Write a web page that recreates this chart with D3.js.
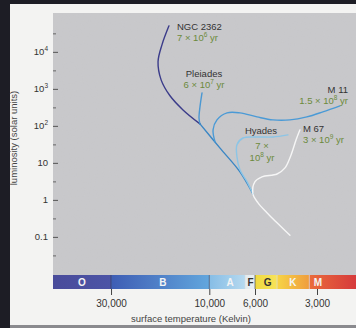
<!DOCTYPE html>
<html>
<head>
<meta charset="utf-8">
<script src="https://cdn.jsdelivr.net/npm/d3@7"></script>
<style>
  html, body { margin: 0; padding: 0; background: #1d1d25; }
  svg { display: block; }
  text { font-family: "Liberation Sans", Arial, sans-serif; }
</style>
</head>
<body>
<div id="chart"></div>
<script>
// Cluster isochrones, [temperature K, luminosity L_sun]
const ngc2362 = [[15700, 50400], [16980, 15460], [17740, 5370], [17140, 1750], [15520, 650], [13420, 270], [11100, 113]];
const pleiades = [[10850, 780], [11100, 327], [11220, 164], [11100, 113]];
const m11 = [[9380, 37], [9590, 78], [9180, 145], [8200, 224], [7100, 224], [5870, 175], [4910, 145], [4060, 145], [3360, 175], [2810, 239], [2320, 348]];
const hyades = [[4150, 57], [4910, 50], [5870, 50], [6860, 47], [7340, 31], [7340, 14.5], [7100, 6.5], [6560, 3.1], [6140, 1.45]];
const mainSeq = [[11100, 113], [8870, 25], [7100, 5.7], [6140, 1.45]];
const m67 = [[3630, 78], [3790, 42], [4010, 16.4], [4290, 7.3], [4690, 5.0], [5550, 4.2], [6000, 3.1], [6140, 1.45], [5800, 0.83], [5250, 0.45], [4690, 0.24], [4060, 0.11]];

// Axes
const lumTicks = [0.1, 1, 10, 100, 1000, 10000];
const lumMinor = [0.0316, 0.316, 3.16, 31.6, 316, 3162, 31623];
const tempTicks = [30000, 10000, 6000, 3000];

// Spectral classes
const classNames = ["O", "B", "A", "F", "G", "K", "M"];
const classBounds = [57400, 30000, 10000, 6700, 6000, 4690, 3270, 1940];
const classLabelTemps = [41500, 16800, 7930, 6300, 5210, 3930, 2970];
const classColors = [
    ["#494b9a", "#4c54a6"],
    ["#3e5db4", "#62a6dd"],
    ["#86bde6", "#b6d9ef"],
    ["#e3ebef", "#e9eff1"],
    ["#efd93e", "#f7e35a"],
    ["#f7d445", "#ef9d3e"],
    ["#ea6b3b", "#d63a3c"]
];

const W = 356, H = 328;
const plot = { left: 53, right: 356, top: 13, bottom: 275 };
const barBottom = 289;

const svg = d3.select('#chart').append('svg')
    .attr('width', W)
    .attr('height', H);

const defs = svg.append('defs');

// paper grain for the plot area
const grain = defs.append('filter').attr('id', 'grain').attr('x', 0).attr('y', 0).attr('width', 1).attr('height', 1);
grain.append('feTurbulence').attr('type', 'fractalNoise').attr('baseFrequency', 0.85).attr('numOctaves', 2).attr('seed', 3).attr('result', 'n');
grain.append('feColorMatrix').attr('in', 'n').attr('type', 'matrix')
    .attr('values', '0 0 0 0 0.5  0 0 0 0 0.5  0 0 0 0 0.5  0 0 0 0.16 0');

// page
svg.append('rect').attr('x', 10).attr('y', 4).attr('width', W - 10).attr('height', 321).attr('fill', '#f3f3f2');
svg.append('rect').attr('x', 10).attr('y', 325).attr('width', W - 10).attr('height', 3).attr('fill', '#8a8a8e');

// plot background
svg.append('rect')
    .attr('x', plot.left).attr('y', plot.top)
    .attr('width', plot.right - plot.left).attr('height', plot.bottom - plot.top)
    .attr('fill', '#c9c9cc');
svg.append('rect')
    .attr('x', plot.left).attr('y', plot.top)
    .attr('width', plot.right - plot.left).attr('height', plot.bottom - plot.top)
    .attr('filter', 'url(#grain)');

const x = d3.scaleLog().domain([57400, 1940]).range([plot.left, plot.right]);
const y = d3.scaleLog().domain([Math.pow(10, -2.03), Math.pow(10, 5.05)]).range([plot.bottom, plot.top]);

// y axis (ticks point inward)
const yAxis = svg.append('g')
    .attr('transform', `translate(${plot.left},0)`)
    .call(d3.axisLeft(y).tickValues(lumTicks).tickSize(-5).tickPadding(5).tickFormat(''));
yAxis.select('.domain').remove();
yAxis.selectAll('line').attr('stroke', '#555');
yAxis.selectAll('text')
    .attr('font-size', 9.5)
    .attr('fill', '#333')
    .each(function(d) {
        const t = d3.select(this);
        const e = Math.round(Math.log10(d));
        if (e >= 2) {
            t.append('tspan').text('10');
            t.append('tspan').attr('dy', -4).attr('font-size', 6.5).text(e);
        } else {
            t.text(d);
        }
    });

const yMinor = svg.append('g')
    .attr('transform', `translate(${plot.left},0)`)
    .call(d3.axisLeft(y).tickValues(lumMinor).tickSize(-3).tickFormat(''));
yMinor.select('.domain').remove();
yMinor.selectAll('line').attr('stroke', '#666');

svg.append('text')
    .attr('transform', 'translate(17,138) rotate(-90)')
    .attr('text-anchor', 'middle')
    .attr('font-size', 9.5)
    .attr('fill', '#444')
    .text('luminosity (solar units)');

// spectral class bar
classNames.forEach((c, i) => {
    const g = defs.append('linearGradient').attr('id', 'grad' + c);
    g.append('stop').attr('offset', '0%').attr('stop-color', classColors[i][0]);
    g.append('stop').attr('offset', '100%').attr('stop-color', classColors[i][1]);
});

const bar = svg.append('g');
bar.selectAll('rect')
    .data(classNames)
    .enter()
    .append('rect')
    .attr('x', (d, i) => x(classBounds[i]))
    .attr('y', plot.bottom)
    .attr('width', (d, i) => Math.min(plot.right, x(classBounds[i + 1])) - x(classBounds[i]))
    .attr('height', barBottom - plot.bottom)
    .attr('fill', d => `url(#grad${d})`);

bar.selectAll('line')
    .data(classBounds.slice(1, -1))
    .enter()
    .append('line')
    .attr('x1', d => x(d)).attr('x2', d => x(d))
    .attr('y1', plot.bottom).attr('y2', barBottom)
    .attr('stroke', d => (d === 30000 || d === 10000 || d === 6000) ? '#333a55' : '#d8dde2')
    .attr('stroke-width', 0.8)
    .attr('opacity', 0.8);

bar.selectAll('text')
    .data(classNames)
    .enter()
    .append('text')
    .attr('x', (d, i) => x(classLabelTemps[i]))
    .attr('y', 286)
    .attr('text-anchor', 'middle')
    .attr('font-size', 10)
    .attr('font-weight', 'bold')
    .attr('fill', d => (d === 'F' || d === 'G') ? '#333' : '#f4f4f4')
    .text(d => d);

// x axis
const xAxis = svg.append('g')
    .attr('transform', `translate(0,${barBottom})`)
    .call(d3.axisBottom(x).tickValues(tempTicks).tickSize(6).tickPadding(5).tickFormat(d3.format(',')));
xAxis.select('.domain').remove();
xAxis.selectAll('line').attr('stroke', '#444');
xAxis.selectAll('text').attr('font-size', 10).attr('fill', '#333');

svg.append('text')
    .attr('x', 191).attr('y', 322)
    .attr('text-anchor', 'middle')
    .attr('font-size', 9.5)
    .attr('fill', '#444')
    .text('surface temperature (Kelvin)');

// curves
const line = d3.line()
    .x(d => x(d[0]))
    .y(d => y(d[1]))
    .curve(d3.curveCatmullRom.alpha(0.5));

const curves = [
    { data: ngc2362, color: '#3b3c8a' },
    { data: pleiades, color: '#4b98d2' },
    { data: mainSeq, color: '#3a86c4' },
    { data: m11, color: '#4a9ad6' },
    { data: hyades, color: '#8cc5e6' },
    { data: m67, color: '#f6f6f6' }
];

svg.append('g')
    .selectAll('path')
    .data(curves)
    .enter()
    .append('path')
    .attr('d', d => line(d.data))
    .attr('fill', 'none')
    .attr('stroke', d => d.color)
    .attr('stroke-width', 1.4)
    .attr('stroke-linejoin', 'round')
    .attr('stroke-linecap', 'round');

// cluster labels
const nameColor = '#333333', ageColor = '#6c8a3c';

function ageText(sel, parts) {
    // parts: [before, exponent, after]
    sel.append('tspan').text(parts[0]);
    sel.append('tspan').attr('dy', -4).attr('font-size', 6.5).text(parts[1]);
    sel.append('tspan').attr('dy', 4).text(parts[2]);
}

const labels = [
    { name: 'NGC 2362', age: ['7 × 10', '6', ' yr'], x: 177, y: 29.5, anchor: 'start' },
    { name: 'Pleiades', age: ['6 × 10', '7', ' yr'], x: 204, y: 76.5, anchor: 'middle' },
    { name: 'M 11', age: ['1.5 × 10', '8', ' yr'], x: 348, y: 92.5, anchor: 'end' },
    { name: 'M 67', age: ['3 × 10', '9', ' yr'], x: 303, y: 131.5, anchor: 'start' }
];

labels.forEach(l => {
    svg.append('text')
        .attr('x', l.x).attr('y', l.y)
        .attr('text-anchor', l.anchor)
        .attr('font-size', 9.5)
        .attr('fill', nameColor)
        .text(l.name);
    svg.append('text')
        .attr('x', l.x).attr('y', l.y + 11)
        .attr('text-anchor', l.anchor)
        .attr('font-size', 9.5)
        .attr('fill', ageColor)
        .call(ageText, l.age);
});

// Hyades label wraps onto three lines
svg.append('text')
    .attr('x', 261).attr('y', 133.5)
    .attr('text-anchor', 'middle')
    .attr('font-size', 9.5)
    .attr('fill', nameColor)
    .text('Hyades');
svg.append('text')
    .attr('x', 262).attr('y', 148.5)
    .attr('text-anchor', 'middle')
    .attr('font-size', 9.5)
    .attr('fill', ageColor)
    .text('7 ×');
svg.append('text')
    .attr('x', 262).attr('y', 160.5)
    .attr('text-anchor', 'middle')
    .attr('font-size', 9.5)
    .attr('fill', ageColor)
    .call(ageText, ['10', '8', ' yr']);
</script>
</body>
</html>
